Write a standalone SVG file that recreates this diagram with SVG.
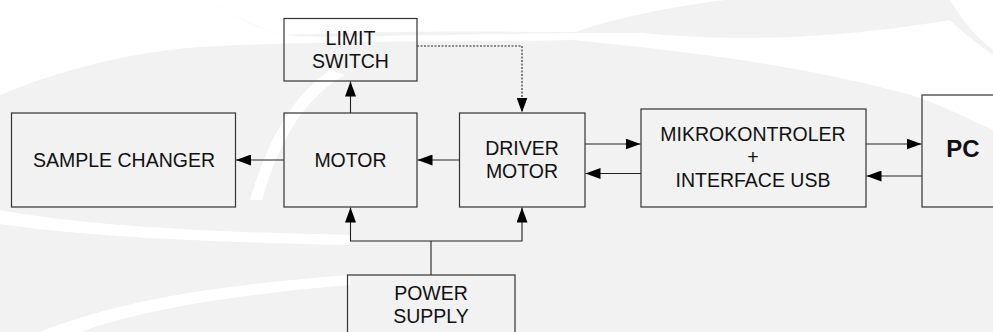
<svg xmlns="http://www.w3.org/2000/svg" width="993" height="332" viewBox="0 0 993 332">
<style>
.box{fill:none;stroke:#333;stroke-width:1.2}
.t{font-family:"Liberation Sans",Arial,sans-serif;font-size:19.5px;fill:#111;text-anchor:middle}
.b{font-weight:bold;font-size:24px}
.c{fill:none;stroke:#222;stroke-width:1.1}
.d{stroke-dasharray:2,1.5}
.wm{fill:#ffffff;stroke:none}
</style>
<defs>
<marker id="ah" markerUnits="userSpaceOnUse" markerWidth="16" markerHeight="11" refX="15" refY="5.5" orient="auto">
<path d="M0,0 L15,5.5 L0,11 Z" fill="#000"/>
</marker>
</defs>
<rect width="993" height="332" fill="#f2f2f2"/>
<g id="watermark">
<path class="wm" d="M0,0 H212 C235,18 258,28 285,35 C420,30 520,32 575,32 C610,20 660,8 725,0 H950 C965,25 980,40 993,50 V0 Z"/>
<path class="wm" d="M0,0 V95 C60,70 130,52 200,47 C330,40 470,42 575,40 C640,48 760,56 900,92 C930,100 950,110 993,130 V55 C980,45 965,35 950,20 C800,45 700,38 640,33 C500,32 300,40 285,35 C255,28 235,18 212,0 Z"/>
<path class="wm" d="M330,70 C300,90 270,130 250,200 L262,200 C282,130 310,95 345,75 Z"/>
<path class="wm" d="M0,210 C80,225 200,232 350,235 L350,245 C200,242 80,236 0,224 Z"/>
<path class="wm" d="M40,332 C120,300 220,285 350,275 L350,285 C230,295 140,310 80,332 Z"/>
</g>
<g id="connectors">
<line class="c" x1="284" y1="160" x2="236" y2="160" marker-end="url(#ah)"/>
<line class="c" x1="459" y1="160" x2="417.5" y2="160" marker-end="url(#ah)"/>
<line class="c" x1="350.5" y1="113" x2="350.5" y2="81.5" marker-end="url(#ah)"/>
<path class="c d" d="M417,46 H522 V112.5" marker-end="url(#ah)"/>
<line class="c" x1="585" y1="144" x2="640.5" y2="144" marker-end="url(#ah)"/>
<line class="c" x1="641" y1="173.5" x2="585.5" y2="173.5" marker-end="url(#ah)"/>
<line class="c" x1="866" y1="144" x2="921.5" y2="144" marker-end="url(#ah)"/>
<line class="c" x1="922" y1="176" x2="866.5" y2="176" marker-end="url(#ah)"/>
<line class="c" x1="431" y1="275" x2="431" y2="241"/>
<path class="c" d="M431,241 H350.5 V207.5" marker-end="url(#ah)"/>
<path class="c" d="M431,241 H522 V207.5" marker-end="url(#ah)"/>
</g>
<g id="limit-switch">
<rect class="box" x="284" y="18.5" width="133" height="62.5"/>
<text class="t" x="350.5" y="44.5">LIMIT</text>
<text class="t" x="350.5" y="67.5">SWITCH</text>
</g>
<g id="sample-changer">
<rect class="box" x="11.5" y="113" width="224" height="94"/>
<text class="t" x="124" y="167">SAMPLE CHANGER</text>
</g>
<g id="motor">
<rect class="box" x="284" y="113" width="133" height="94"/>
<text class="t" x="350.5" y="167">MOTOR</text>
</g>
<g id="driver-motor">
<rect class="box" x="459.5" y="113" width="125.5" height="94"/>
<text class="t" x="522" y="154.5">DRIVER</text>
<text class="t" x="522" y="177.5">MOTOR</text>
</g>
<g id="mikrokontroler">
<rect class="box" x="641" y="109" width="225" height="98"/>
<text class="t" x="753" y="140.5">MIKROKONTROLER</text>
<text class="t" x="753" y="163.5">+</text>
<text class="t" x="753" y="186.5">INTERFACE USB</text>
</g>
<g id="pc">
<rect class="box" x="922" y="95" width="80" height="112"/>
<text class="t b" x="963" y="157">PC</text>
</g>
<g id="power-supply">
<rect class="box" x="347.5" y="275" width="167.5" height="70"/>
<text class="t" x="431" y="300">POWER</text>
<text class="t" x="431" y="323">SUPPLY</text>
</g>
</svg>
